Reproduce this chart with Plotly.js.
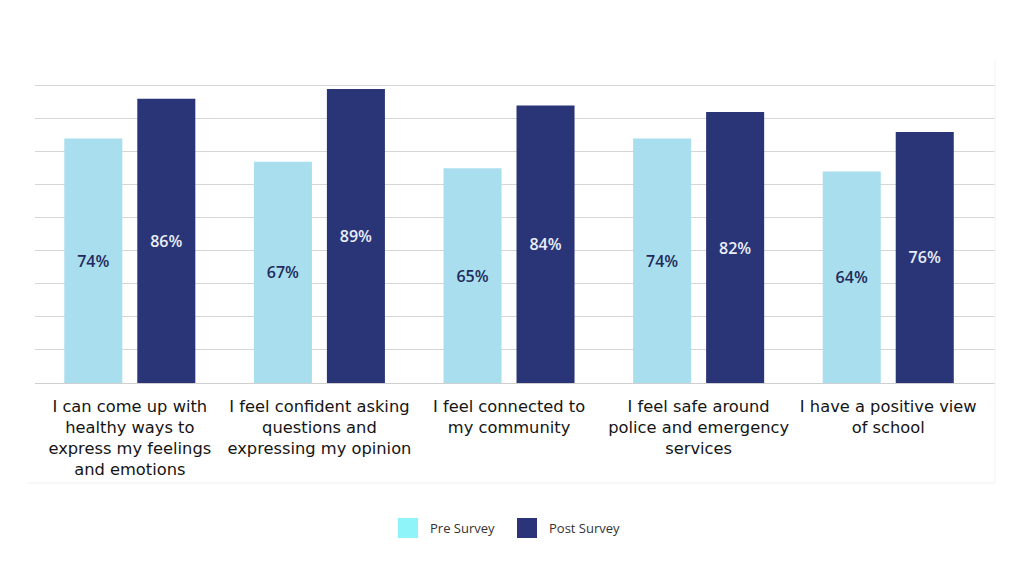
<!DOCTYPE html>
<html>
<head>
<meta charset="utf-8">
<script src="https://cdn.plot.ly/plotly-3.0.1.min.js"></script>
<style>
  html, body { margin: 0; padding: 0; background: #ffffff; }
  #chart { width: 1024px; height: 576px; }
</style>
</head>
<body>
<div id="chart"></div>
<script>
// Survey statements (x categories), with line breaks for the axis labels
const categories = [
  "I can come up with<br>healthy ways to<br>express my feelings<br>and emotions",
  "I feel confident asking<br>questions and<br>expressing my opinion",
  "I feel connected to<br>my community",
  "I feel safe around<br>police and emergency<br>services",
  "I have a positive view<br>of school"
];

// Share of respondents agreeing (%)
const preSurvey  = [74, 67, 65, 74, 64];
const postSurvey = [86, 89, 84, 82, 76];

const seriesNames = ["Pre Survey", "Post Survey"];

const barColors    = ["#a9deef", "#293577"];
const swatchColors = ["#8ff4fa", "#2b3478"];
const labelColors  = ["#1f2b5a", "#e9eef9"];

const labelFont = "Open Sans, Lato, sans-serif";

function barTrace(values, i) {
  return {
    type: "bar",
    x: categories,
    y: values,
    name: seriesNames[i],
    marker: { color: barColors[i] },
    texttemplate: "%{y}%",
    textposition: "inside",
    insidetextanchor: "middle",
    textangle: 0,
    textfont: { family: labelFont, size: 16, weight: 600, color: labelColors[i] },
    hoverinfo: "skip",
    showlegend: false
  };
}

const data = [barTrace(preSurvey, 0), barTrace(postSurvey, 1)];

// Plot box in pixels
const M = { l: 35, r: 29, t: 84, b: 193 };
const plotW = 1024 - M.l - M.r, plotH = 576 - M.t - M.b;
function px2paperX(px) { return (px - M.l) / plotW; }
function px2paperY(py) { return (576 - M.b - py) / plotH; }

const shapes = [
  // faint panel edges (bottom and right)
  { type: "line", xref: "paper", yref: "paper",
    x0: px2paperX(28), x1: px2paperX(995), y0: px2paperY(483), y1: px2paperY(483),
    line: { color: "#eeeeee", width: 1 } },
  { type: "line", xref: "paper", yref: "paper",
    x0: px2paperX(995), x1: px2paperX(995), y0: px2paperY(60), y1: px2paperY(483),
    line: { color: "#f2f2f2", width: 1 } }
];
const annotations = [];

// Legend: square swatches with labels below the chart
const legendSwatches = [[398, 418, 428], [517, 537, 547]];
legendSwatches.forEach((p, i) => {
  shapes.push({
    type: "rect", xref: "paper", yref: "paper",
    x0: px2paperX(p[0]), x1: px2paperX(p[1]),
    y0: px2paperY(538), y1: px2paperY(518),
    fillcolor: swatchColors[i], line: { width: 0 }
  });
  annotations.push({
    xref: "paper", yref: "paper",
    x: px2paperX(p[2]), y: px2paperY(528),
    xanchor: "left", yanchor: "middle",
    text: seriesNames[i], showarrow: false,
    font: { family: labelFont, size: 13, color: "#333333" }
  });
});

const layout = {
  width: 1024,
  height: 576,
  margin: M,
  paper_bgcolor: "#ffffff",
  plot_bgcolor: "#ffffff",
  barmode: "group",
  bargap: 0.23,
  bargroupgap: 0.205,
  showlegend: false,
  xaxis: {
    type: "category",
    range: [-0.5, 4.563],
    showgrid: false,
    showline: true,
    linecolor: "#cfcfcf",
    linewidth: 1,
    ticks: "",
    ticklabelstandoff: 8,
    tickfont: { family: "DejaVu Sans, Verdana, sans-serif", size: 16.3, color: "#151515" },
    fixedrange: true
  },
  yaxis: {
    range: [0, 90.5],
    dtick: 10,
    showgrid: true,
    gridcolor: "#d6d6d6",
    gridwidth: 1,
    zeroline: false,
    showticklabels: false,
    ticks: "",
    fixedrange: true
  },
  shapes: shapes,
  annotations: annotations
};

Plotly.newPlot("chart", data, layout, { displayModeBar: false, staticPlot: true });
</script>
</body>
</html>
